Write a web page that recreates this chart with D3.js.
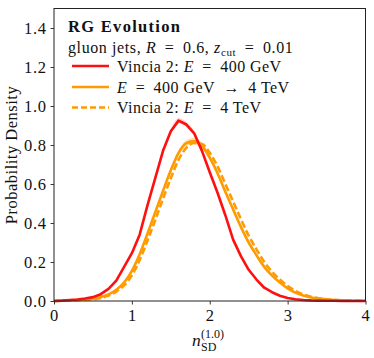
<!DOCTYPE html>
<html><head><meta charset="utf-8">
<script src="https://cdn.jsdelivr.net/npm/d3@7"></script>
</head>
<body style="margin:0;background:#fff"><svg id="c" width="374" height="358" style="display:block"></svg>
<script>
const xs = [0,0.1,0.2,0.3,0.4,0.5,0.6,0.7,0.8,0.9,1.0,1.1,1.2,1.3,1.4,1.5,1.6,1.7,1.8,1.9,2.0,2.1,2.2,2.3,2.4,2.5,2.6,2.7,2.8,2.9,3.0,3.1,3.2,3.3,3.4,3.5,3.6,3.7,3.8,3.9,4.0];
const vincia400 = [0,0.002,0.005,0.008,0.013,0.02,0.035,0.062,0.105,0.175,0.245,0.34,0.49,0.63,0.77,0.87,0.925,0.905,0.86,0.77,0.66,0.555,0.44,0.315,0.23,0.16,0.11,0.068,0.045,0.027,0.015,0.009,0.005,0.003,0.002,0.001,0.001,0,0,0,0];
const evolved = [0,0.001,0.003,0.005,0.008,0.012,0.02,0.034,0.058,0.095,0.155,0.24,0.345,0.455,0.565,0.67,0.76,0.81,0.82,0.795,0.735,0.655,0.56,0.47,0.38,0.3,0.235,0.175,0.13,0.095,0.065,0.043,0.028,0.018,0.012,0.008,0.005,0.003,0.002,0.001,0.001];
const vincia4 = [0,0.001,0.002,0.004,0.006,0.009,0.016,0.028,0.048,0.08,0.132,0.21,0.31,0.415,0.525,0.63,0.725,0.785,0.81,0.805,0.76,0.69,0.6,0.51,0.42,0.335,0.265,0.2,0.15,0.11,0.077,0.052,0.034,0.022,0.014,0.009,0.006,0.004,0.003,0.002,0.001];
const xTicks = [0,1,2,3,4];
const yTicks = [0,0.2,0.4,0.6,0.8,1.0,1.2,1.4];
const legendLabels = ["Vincia 2: E = 400 GeV","E = 400 GeV → 4 TeV","Vincia 2: E = 4 TeV"];

const FF = "Liberation Serif";
const svg = d3.select("#c");
const L=54, R=365.5, T=8.5, B=301;
const x = d3.scaleLinear().domain([0,4]).range([L,R]);
const y = d3.scaleLinear().domain([0,1.5]).range([B,T]);
const red="#ff1010", orange="#ff9a00";
const FS=16, LS=0.45, EQ="\u2002=\u2002";
const txt = (sel) => sel.append("text").attr("font-family",FF).attr("fill","#111");

const g = svg.append("g");
const line = d => d3.line().x((v,i)=>x(xs[i])).y(v=>y(v))(d);
const smooth = d => d3.line().curve(d3.curveMonotoneX).x((v,i)=>x(xs[i])).y(v=>y(v))(d);
const area = (d,w) => d3.area().curve(d3.curveMonotoneX).x((v,i)=>x(xs[i])).y0(v=>y(v*(1-w))).y1(v=>y(v*(1+w)))(d);
g.append("path").attr("d",area(evolved,0.02)).attr("fill",orange).attr("opacity",0.3);
g.append("path").attr("d",area(vincia400,0.015)).attr("fill",red).attr("opacity",0.2);
g.append("path").attr("d",smooth(evolved)).attr("fill","none").attr("stroke",orange).attr("stroke-width",2.6);
g.append("path").attr("d",smooth(vincia4)).attr("fill","none").attr("stroke",orange).attr("stroke-width",2.6).attr("stroke-dasharray","7,3");
g.append("path").attr("d",line(vincia400)).attr("fill","none").attr("stroke",red).attr("stroke-width",2.6).attr("stroke-linejoin","round");

const xa = svg.append("g").attr("transform",`translate(0,${B})`).call(d3.axisBottom(x).tickValues(xTicks).tickSize(3.5).tickPadding(4).tickFormat(d3.format("d")));
const ya = svg.append("g").attr("transform",`translate(${L},0)`).call(d3.axisLeft(y).tickValues(yTicks).tickSize(3.5).tickPadding(4).tickFormat(d3.format(".1f")));
[xa,ya].forEach(a=>{a.attr("font-family",FF).attr("font-size",16.5);a.select(".domain").remove();a.selectAll("text").attr("font-family",FF).attr("fill","#111").attr("letter-spacing",0.6);a.selectAll("line").attr("stroke","#222").attr("stroke-width",0.9);});
xa.selectAll("text").attr("dy","0.78em");
svg.append("rect").attr("x",L).attr("y",T).attr("width",R-L).attr("height",B-T).attr("fill","none").attr("stroke","#222").attr("stroke-width",1);

txt(svg).attr("x",68).attr("y",32).attr("font-size",16.5).attr("font-weight","bold").attr("letter-spacing",1.3).text("RG Evolution");
const sub = txt(svg).attr("x",68).attr("y",53).attr("font-size",FS).attr("letter-spacing",LS+0.15);
sub.append("tspan").text("gluon jets, ");
sub.append("tspan").attr("font-style","italic").text("R");
sub.append("tspan").text(EQ+"0.6, ");
sub.append("tspan").attr("font-style","italic").text("z");
sub.append("tspan").attr("font-size",11).attr("dy",3).text("cut");
sub.append("tspan").attr("dy",-3).text(EQ+"0.01");

const rows=[{y:66,c:red,dash:null},{y:87,c:orange,dash:null},{y:107.5,c:orange,dash:"6,3"}];
rows.forEach((r,i)=>{
  svg.append("line").attr("x1",72).attr("x2",109).attr("y1",r.y).attr("y2",r.y).attr("stroke",r.c).attr("stroke-width",2.6).attr("stroke-dasharray",r.dash);
  const t = txt(svg).attr("x",117).attr("y",r.y+5.5).attr("font-size",FS).attr("letter-spacing",LS);
  const lab = legendLabels[i].replace(/ = /g,EQ).replace(/ → /g,"\u2002→\u2002");
  if(i===0||i===2){
    const k = lab.indexOf("E");
    t.append("tspan").text(lab.slice(0,k));
    t.append("tspan").attr("font-style","italic").text("E");
    t.append("tspan").text(lab.slice(k+1));
  } else {
    t.append("tspan").attr("font-style","italic").text("E");
    t.append("tspan").text(lab.slice(1));
  }
});

txt(svg).attr("transform","translate(17,155) rotate(-90)").attr("text-anchor","middle").attr("font-size",16.5).attr("letter-spacing",0.5).text("Probability Density");
txt(svg).attr("x",192).attr("y",346).attr("font-size",17.5).attr("font-style","italic").text("n");
txt(svg).attr("x",201).attr("y",338).attr("font-size",12).text("(1.0)");
txt(svg).attr("x",201).attr("y",351).attr("font-size",12).text("SD");
</script></body></html>
